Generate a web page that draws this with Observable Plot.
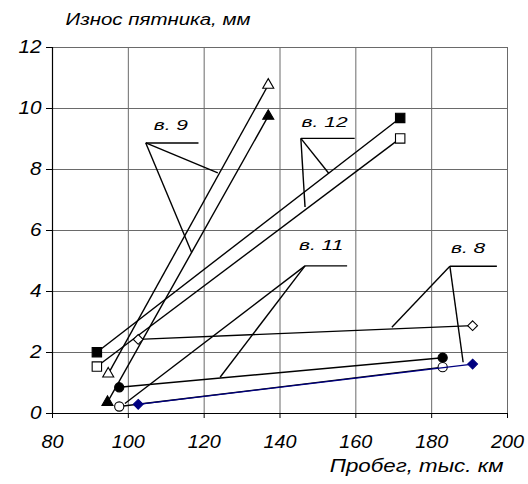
<!DOCTYPE html>
<html><head><meta charset="utf-8">
<script src="https://cdn.jsdelivr.net/npm/d3@7"></script>
<script src="https://cdn.jsdelivr.net/npm/@observablehq/plot@0.6"></script>
<style>html,body{margin:0;padding:0;background:#fff}svg{display:block}</style>
</head><body><div id="chart"></div>
<script>
// ---- data ----
const xTicks = [80, 100, 120, 140, 160, 180, 200];
const yTicks = [0, 2, 4, 6, 8, 10, 12];
const yTitle = "Износ пятника, мм";
const xTitle = "Пробег, тыс. км";

const seriesLabels = ["в. 9 △", "в. 9 ▲", "в. 12 ■", "в. 12 □", "в. 11 ●", "в. 11 ○", "в. 8 ◇", "в. 8 ◆"];
const startKm   = [94.7, 94.5, 91.7, 91.7, 97.6, 97.6, 102.6, 102.6];
const startWear = [1.30, 0.37, 2.01, 1.54, 0.86, 0.23, 2.43, 0.30];
const endKm     = [136.9, 136.9, 171.7, 171.7, 182.9, 182.9, 190.8, 190.8];
const endWear   = [10.77, 9.75, 9.69, 9.02, 1.83, 1.52, 2.88, 1.62];

const calloutLabels   = ["в. 9", "в. 12", "в. 11", "в. 8"];
const calloutHubKm    = [104.6, 145.5, 146.6, 184.8];
const calloutHubWear  = [8.87, 9.02, 4.84, 4.83];
const calloutShelfKm  = [118.5, 159.7, 157.7, 197.2];
const calloutTipAKm   = [123.6, 152.9, 99.1, 169.5];
const calloutTipAWear = [7.89, 7.87, 0.33, 2.83];
const calloutTipBKm   = [116.7, 146.6, 124.2, 188.3];
const calloutTipBWear = [5.28, 6.77, 1.19, 1.68];
const calloutTextKm   = [106.7, 145.7, 145.0, 185.1];
const calloutTextWear = [9.43, 9.54, 5.51, 5.42];

// ---- styles (separate from data) ----
const symbolOf = {"в. 9 △":"triangle","в. 9 ▲":"triangle","в. 12 ■":"square","в. 12 □":"square",
  "в. 11 ●":"circle","в. 11 ○":"circle","в. 8 ◇":"diamond2","в. 8 ◆":"diamond2"};
const fillOf = {"в. 9 △":"white","в. 9 ▲":"black","в. 12 ■":"black","в. 12 □":"white",
  "в. 11 ●":"black","в. 11 ○":"white","в. 8 ◇":"white","в. 8 ◆":"#000080"};
const strokeOf = {"в. 8 ◆":"#000080"};
const rOf = {triangle:4.1, square:5.3, circle:4.6, diamond2:4.4};

// ---- build ----
const rows = seriesLabels.map((s, i) => ({series: s, x1: startKm[i], y1: startWear[i], x2: endKm[i], y2: endWear[i]}));
const callouts = calloutLabels.map((l, i) => ({label: l, hx: calloutHubKm[i], hy: calloutHubWear[i], sx: calloutShelfKm[i],
  ax: calloutTipAKm[i], ay: calloutTipAWear[i], bx: calloutTipBKm[i], by: calloutTipBWear[i],
  tx: calloutTextKm[i], ty: calloutTextWear[i]}));

const seriesMarks = rows.flatMap(r => {
  const st = strokeOf[r.series] || "black";
  const sym = symbolOf[r.series];
  const pts = [{x: r.x1, y: r.y1}, {x: r.x2, y: r.y2}];
  return [
    Plot.link([r], {x1: "x1", y1: "y1", x2: "x2", y2: "y2", stroke: st, strokeWidth: 1.4}),
    Plot.dot(pts, {x: "x", y: "y", symbol: () => sym, r: rOf[sym], fill: fillOf[r.series], stroke: st, strokeWidth: 1.1})
  ];
});

const grid = {stroke: "#6a6a6a", strokeOpacity: 1, strokeWidth: 1};
const chart = Plot.plot({
  width: 528, height: 484,
  marginLeft: 52, marginRight: 21, marginTop: 47, marginBottom: 71,
  x: {domain: [80, 200], axis: null},
  y: {domain: [0, 12], axis: null},
  symbol: {type: "identity"},
  style: {fontFamily: "'Liberation Sans', Arial, sans-serif", fontStyle: "italic", background: "white", color: "black"},
  marks: [
    Plot.gridX(xTicks.filter(v => v > 80), grid),
    Plot.gridY(yTicks.filter(v => v > 0), grid),
    Plot.ruleX([80], {stroke: "black", strokeWidth: 1.2}),
    Plot.ruleY([0], {stroke: "black", strokeWidth: 1.2}),
    Plot.axisX(xTicks, {tickSize: 5, tickPadding: 17, fontSize: 18, label: null}),
    Plot.axisY(yTicks, {tickSize: 6, tickPadding: 5, fontSize: 18, label: null}),
    Plot.link(callouts, {x1: "hx", y1: "hy", x2: "sx", y2: "hy", stroke: "black", strokeWidth: 1.4}),
    Plot.link(callouts, {x1: "hx", y1: "hy", x2: "ax", y2: "ay", stroke: "black", strokeWidth: 1.4}),
    Plot.link(callouts, {x1: "hx", y1: "hy", x2: "bx", y2: "by", stroke: "black", strokeWidth: 1.4}),
    Plot.text(callouts, {x: "tx", y: "ty", text: "label", textAnchor: "start", fontSize: 14, fill: "black"}),
    ...seriesMarks,
    Plot.text([yTitle], {frameAnchor: "top-left", textAnchor: "start", dx: 13, dy: -34, fontSize: 16, fill: "black"}),
    Plot.text([xTitle], {frameAnchor: "bottom-right", textAnchor: "end", dx: -4, dy: 58, fontSize: 18, fill: "black"})
  ]
});
document.getElementById("chart").append(chart);

// horizontally widen glyphs like the original rendering (scale about each text's anchor)
const widen = new Map();
xTicks.forEach(v => widen.set(String(v), 1.1));
yTicks.forEach(v => widen.set(String(v), 1.15));
calloutLabels.forEach(v => widen.set(v, 1.5));
widen.set(yTitle, 1.28);
widen.set(xTitle, 1.24);
chart.querySelectorAll("text").forEach(t => {
  const f = widen.get(t.textContent.trim());
  if (!f) return;
  const ax = parseFloat(t.getAttribute("x")) || 0;
  const tr = t.getAttribute("transform") || "";
  t.setAttribute("transform", `${tr} translate(${ax},0) scale(${f},1) translate(${-ax},0)`);
});
</script>
</body></html>
